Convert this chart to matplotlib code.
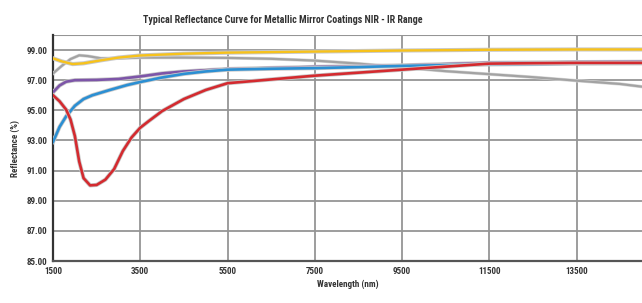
import matplotlib
matplotlib.use('Agg')
import matplotlib.pyplot as plt
import matplotlib.patheffects as pe
from matplotlib import font_manager

# wavelength (nm) / reflectance (%)
gray_x = [1500, 1700, 1900, 2100, 2300, 2600, 3000, 3500, 4500, 5500, 6500, 7500, 8500, 9500, 10500, 11500, 12500, 13500, 14500, 15000]
gray_y = [97.45, 97.95, 98.4, 98.65, 98.6, 98.45, 98.45, 98.5, 98.5, 98.48, 98.42, 98.3, 98.1, 97.85, 97.6, 97.4, 97.2, 96.97, 96.75, 96.57]

yellow_x = [1500, 1700, 1950, 2200, 2600, 3000, 3500, 4500, 5500, 7500, 9500, 11500, 13500, 15000]
yellow_y = [98.45, 98.25, 98.07, 98.12, 98.32, 98.5, 98.64, 98.76, 98.83, 98.9, 98.97, 99.02, 99.04, 99.04]

purple_x = [1500, 1650, 1800, 2000, 2500, 3000, 3500, 4000, 4500, 5500, 7500, 9500, 11500, 13500, 15000]
purple_y = [96.2, 96.65, 96.9, 97.0, 97.02, 97.08, 97.25, 97.45, 97.58, 97.74, 97.88, 97.98, 98.15, 98.2, 98.22]

blue_x = [1500, 1650, 1800, 2000, 2200, 2400, 2800, 3200, 3500, 4000, 4500, 5000, 5500, 6500, 7500, 8500, 9500, 10500, 11500, 13500, 15000]
blue_y = [92.9, 93.9, 94.6, 95.3, 95.75, 96.0, 96.35, 96.68, 96.88, 97.18, 97.42, 97.58, 97.7, 97.76, 97.8, 97.87, 97.95, 98.0, 98.05, 98.1, 98.12]

red_x = [1500, 1650, 1800, 1900, 2000, 2100, 2200, 2350, 2500, 2700, 2900, 3100, 3300, 3500, 3700, 4000, 4500, 5000, 5500, 6500, 7500, 8500, 9500, 10500, 11500, 12500, 13500, 15000]
red_y = [96.0, 95.6, 95.05, 94.4, 93.3, 91.6, 90.5, 90.02, 90.05, 90.4, 91.1, 92.3, 93.2, 93.85, 94.3, 94.95, 95.75, 96.35, 96.8, 97.05, 97.3, 97.5, 97.7, 97.9, 98.1, 98.13, 98.15, 98.15]

x_ticks = [1500, 3500, 5500, 7500, 9500, 11500, 13500]
y_ticks = [85, 87, 89, 91, 93, 95, 97, 99]

# prefer a condensed face if one is installed
names = {f.name for f in font_manager.fontManager.ttflist}
font = [n for n in ['Liberation Sans Narrow', 'DejaVu Sans Condensed', 'Roboto Condensed',
                    'Open Sans Condensed'] if n in names] + ['DejaVu Sans']
stretch = 'condensed'

fig = plt.figure(figsize=(6.42, 3.03), dpi=100)
ax = fig.add_axes([0.0826, 0.1386, 0.9174, 0.7459])

halo = [pe.Stroke(linewidth=3.0, foreground='#c9c9c9'), pe.Normal()]

ax.plot(gray_x, gray_y, color='#a3a3a3', lw=1.6, zorder=3,
        path_effects=[pe.Stroke(linewidth=2.4, foreground='#d8d8d8'), pe.Normal()])
ax.plot(yellow_x, yellow_y, color='#f7c21b', lw=1.7, zorder=4, path_effects=halo)
ax.plot(purple_x, purple_y, color='#7d55a8', lw=1.9, zorder=5, path_effects=halo)
ax.plot(blue_x, blue_y, color='#2b8fd3', lw=1.9, zorder=6, path_effects=halo)
ax.plot(red_x, red_y, color='#d42a2f', lw=1.9, zorder=7, path_effects=halo)

ax.set_xlim(1500, 15000)
ax.set_ylim(85, 100)
ax.set_xticks(x_ticks)
ax.set_yticks(y_ticks)
ax.set_xticklabels([str(v) for v in x_ticks])
ax.set_yticklabels(['%.2f' % v for v in y_ticks])

ax.grid(True, color='#959595', lw=1.3, zorder=1)
ax.axhline(100, color='#959595', lw=1.5, zorder=1)
ax.set_axisbelow(True)

for s in ['top', 'right']:
    ax.spines[s].set_visible(False)
ax.spines['left'].set_color('#333333')
ax.spines['left'].set_linewidth(1.6)
ax.spines['bottom'].set_color('#555555')
ax.spines['bottom'].set_linewidth(1.6)

ax.tick_params(length=0, pad=4, labelsize=6.5, labelcolor='#333333')
for lab in ax.get_xticklabels() + ax.get_yticklabels():
    lab.set_family(font)
    lab.set_fontweight('bold')
    lab.set_fontstretch(stretch)

ax.set_xlabel('Wavelength (nm)', family=font, fontweight='bold', fontstretch=stretch,
              fontsize=6.5, color='#333333', labelpad=3)
ax.set_ylabel('Reflectance (%)', family=font, fontweight='bold', fontstretch=stretch,
              fontsize=6.5, color='#333333', labelpad=5)

fig.text(0.441, 0.935, 'Typical Reflectance Curve for Metallic Mirror Coatings NIR - IR Range',
         ha='center', va='center', family=font, fontweight='bold', fontstretch=stretch,
         fontsize=7.2, color='#333333')

fig.savefig('out.png', dpi=100)
